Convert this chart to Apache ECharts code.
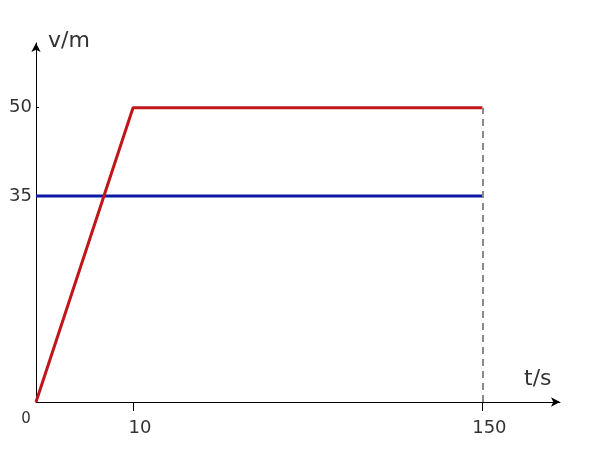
<!DOCTYPE html>
<html>
<head>
<meta charset="utf-8">
<script src="https://cdn.jsdelivr.net/npm/echarts@6/dist/echarts.min.js"></script>
<style>html,body{margin:0;padding:0;background:#fff}#c{width:600px;height:457px}</style>
</head>
<body>
<div id="c"></div>
<script>
// ---- data ----
const timeLabels = ['0', '10', '150'];      // t (s) tick labels
const redValues  = [0, 50, 50];             // red line v at each time
const blueTimes  = ['0', '150'];
const blueValues = [35, 35];                // blue line v
const yTickLabels = [35, 50];
const xName = 't/s';
const yName = 'v/m';

// ---- layout (hand-drawn, not to scale: slot positions on a category axis) ----
const slotOf = { '0': 0, '10': 5, '150': 23 };
const nSlots = 28;

const categories = new Array(nSlots).fill('');
timeLabels.forEach(t => { categories[slotOf[t]] = t; });
const redSeries = new Array(nSlots).fill(null);
timeLabels.forEach((t, i) => { redSeries[slotOf[t]] = redValues[i]; });
const blueSeries = new Array(nSlots).fill(null);
blueTimes.forEach((t, i) => { blueSeries[slotOf[t]] = blueValues[i]; });
const lastT = timeLabels[timeLabels.length - 1];

const chart = echarts.init(document.getElementById('c'));
const font = 'DejaVu Sans';
chart.setOption({
  animation: false,
  backgroundColor: '#fff',
  grid: { left: 36, right: 40, top: 43, bottom: 55, containLabel: false },
  xAxis: {
    type: 'category',
    data: categories,
    boundaryGap: false,
    name: xName,
    nameLocation: 'end',
    nameGap: -36,
    nameTextStyle: { fontFamily: font, fontSize: 22, color: '#333', align: 'left', verticalAlign: 'bottom', padding: [0, 0, 12, 0] },
    axisLine: { lineStyle: { color: '#000', width: 1 }, symbol: ['none', 'arrow'], symbolSize: [7, 9] },
    axisTick: { show: true, inside: false, length: 9, lineStyle: { color: '#000' },
      interval: (i, v) => v !== '' && v !== '0' },
    axisLabel: {
      interval: 0, margin: 10, fontFamily: font, color: '#333',
      formatter: v => v === '' ? '' : (v === '0' ? '{o|0}' : '{n|' + v + '}'),
      rich: {
        o: { fontFamily: font, fontSize: 15, color: '#333', padding: [0, 20, 0, 0] },
        n: { fontFamily: font, fontSize: 18, color: '#333', padding: [7, 0, 0, 14] }
      }
    },
    splitLine: { show: false }
  },
  yAxis: {
    type: 'value',
    min: 0, max: 61,
    name: yName,
    nameLocation: 'end',
    nameGap: 2,
    nameTextStyle: { fontFamily: font, fontSize: 22, color: '#333', align: 'left', verticalAlign: 'middle', padding: [0, 0, 0, 12] },
    axisLine: { show: true, lineStyle: { color: '#000', width: 1 }, symbol: ['none', 'arrow'], symbolSize: [7, 9] },
    axisTick: { show: true, inside: true, length: 3, customValues: yTickLabels, lineStyle: { color: '#000' } },
    axisLabel: { customValues: yTickLabels, margin: 4, fontFamily: font, fontSize: 18, color: '#333' },
    splitLine: { show: false }
  },
  series: [
    {
      type: 'line',
      data: blueSeries,
      connectNulls: true,
      symbol: 'none',
      lineStyle: { color: '#0d18a8', width: 3 },
      z: 2
    },
    {
      type: 'line',
      data: redSeries,
      connectNulls: true,
      symbol: 'none',
      lineStyle: { color: '#c0161b', width: 3 },
      z: 3,
      markLine: {
        silent: true,
        symbol: ['none', 'none'],
        label: { show: false },
        lineStyle: { color: '#8a8a8a', width: 2, type: [7, 5] },
        data: [[{ coord: [slotOf[lastT], 0] }, { coord: [slotOf[lastT], redValues[redValues.length - 1]] }]]
      }
    }
  ]
});
</script>
</body>
</html>
